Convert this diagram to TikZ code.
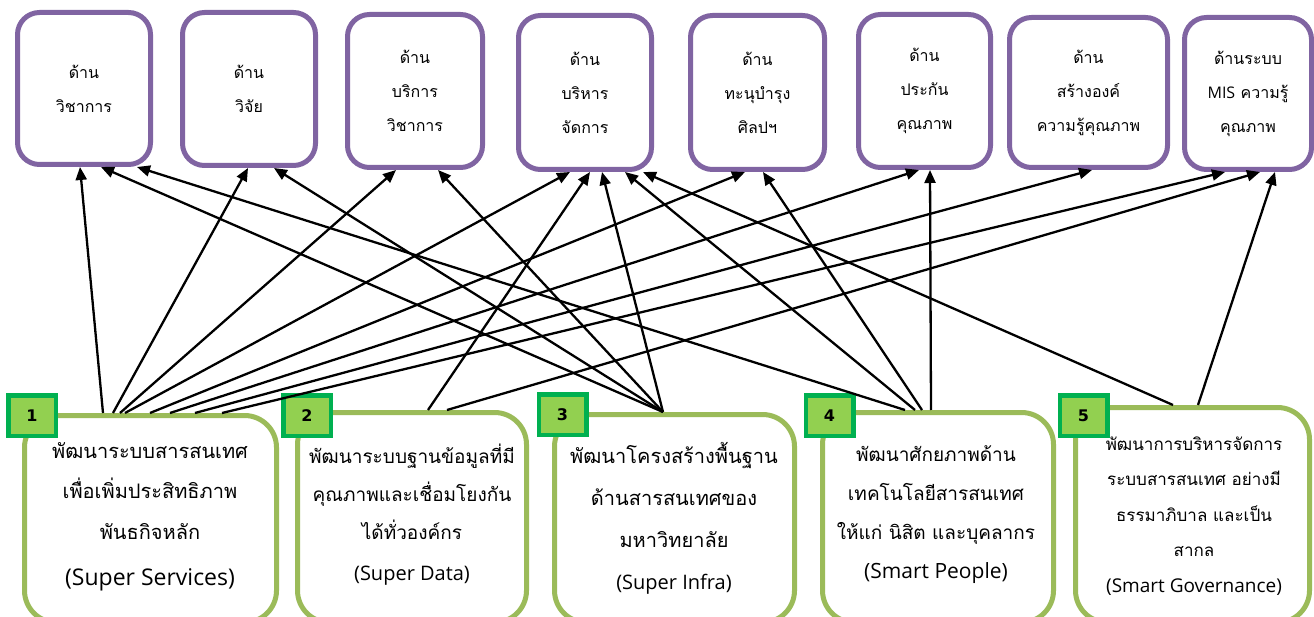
\documentclass[tikz,border=0pt]{standalone}
\usepackage{fontspec}
\usetikzlibrary{arrows.meta}
\newfontfamily\thai[Script=Thai]{Loma}
\newfontfamily\lat{Open Sans}
\newfontfamily\bdg{DejaVu Sans}
\definecolor{tpurple}{HTML}{8064A2}
\definecolor{bgreen}{HTML}{9BBB59}
\definecolor{bdfill}{HTML}{92D050}
\definecolor{bdline}{HTML}{00B050}
\tikzset{
  topbox/.style={draw=tpurple, line width=5pt, rounded corners=22pt, fill=white,
    align=center, inner sep=0pt, font=\thai\fontsize{16}{34}\selectfont},
  botbox/.style={draw=bgreen, line width=5pt, rounded corners=32pt, fill=white, inner sep=0pt},
  badge/.style={draw=bdline, fill=bdfill, line width=4.5pt, minimum width=47.5pt,
    minimum height=40.5pt, inner sep=0pt, font=\bdg\bfseries\fontsize{16}{16}\selectfont},
  bottext/.style={align=center, inner sep=0pt},
  conn/.style={line width=2.3pt, -{Triangle[length=13pt,width=11pt]}}
}
\begin{document}
\begin{tikzpicture}[x=1pt,y=-1pt]
\useasboundingbox (0,0) rectangle (1314,617);
% top boxes
\node[topbox, minimum width=133pt, minimum height=152pt] (t1) at (84,88.5) {ด้าน\\วิชาการ};
\node[topbox, minimum width=133pt, minimum height=153pt] (t2) at (249,89) {ด้าน\\วิจัย};
\node[topbox, minimum width=135pt, minimum height=153pt] (t3) at (415,91) {ด้าน\\บริการ\\วิชาการ};
\node[topbox, minimum width=133pt, minimum height=154pt] (t4) at (585,92.5) {ด้าน\\บริหาร\\จัดการ};
\node[topbox, minimum width=134pt, minimum height=154pt] (t5) at (757.5,92.5) {ด้าน\\ทะนุบำรุง\\ศิลปฯ};
\node[topbox, minimum width=132pt, minimum height=153pt] (t6) at (924.5,91) {ด้าน\\ประกัน\\คุณภาพ};
\node[topbox, minimum width=158pt, minimum height=150pt] (t7) at (1088.5,92.5) {ด้าน\\สร้างองค์\\ความรู้คุณภาพ};
\node[topbox, minimum width=127pt, minimum height=152pt] (t8) at (1248,93.5) {ด้านระบบ\\{\lat MIS} ความรู้\\คุณภาพ};
% bottom boxes
\node[botbox, minimum width=252pt, minimum height=207pt] (b1) at (150.5,519) {};
\node[botbox, minimum width=229pt, minimum height=210pt] (b2) at (412,517.5) {};
\node[botbox, minimum width=240pt, minimum height=208pt] (b3) at (674.5,518.5) {};
\node[botbox, minimum width=231pt, minimum height=210pt] (b4) at (938,517.5) {};
\node[botbox, minimum width=234pt, minimum height=215pt] (b5) at (1192.5,515) {};
% texts
\node[bottext, font=\thai\fontsize{20}{40.5}\selectfont] (b1t) at (150,517)
  {พัฒนาระบบสารสนเทศ\\เพื่อเพิ่มประสิทธิภาพ\\พันธกิจหลัก\\[6pt]{\lat\fontsize{23}{40}\selectfont (Super Services)}};
\node[bottext, font=\thai\fontsize{19}{38}\selectfont] (b2t) at (412,514.5)
  {พัฒนาระบบฐานข้อมูลที่มี\\คุณภาพและเชื่อมโยงกัน\\ได้ทั่วองค์กร\\[3pt]{\lat\fontsize{20}{38}\selectfont (Super Data)}};
\node[bottext, font=\thai\fontsize{20}{42}\selectfont] (b3t) at (674,518.5)
  {พัฒนาโครงสร้างพื้นฐาน\\ด้านสารสนเทศของ\\มหาวิทยาลัย\\{\lat\fontsize{20}{42}\selectfont (Super Infra)}};
\node[bottext, font=\thai\fontsize{19}{39}\selectfont] (b4t) at (936,515)
  {พัฒนาศักยภาพด้าน\\เทคโนโลยีสารสนเทศ\\ให้แก่ นิสิต และบุคลากร\\{\lat\fontsize{21}{39}\selectfont (Smart People)}};
\node[bottext, font=\thai\fontsize{17}{35.5}\selectfont] (b5t) at (1194,516)
  {พัฒนาการบริหารจัดการ\\ระบบสารสนเทศ อย่างมี\\ธรรมาภิบาล และเป็น\\สากล\\{\lat\fontsize{19}{35.5}\selectfont (Smart Governance)}};
% badges
\node[badge] (n1) at (32,415.5) {1};
\node[badge] (n2) at (307,415.5) {2};
\node[badge] (n3) at (562.5,414.5) {3};
\node[badge] (n4) at (829.5,415.5) {4};
\node[badge] (n5) at (1083.5,415.5) {5};
% connectors
\draw[conn] ([xshift=-47.5pt]b1.north) -- ([xshift=-4pt]t1.south);
\draw[conn] ([xshift=-37.5pt]b1.north) -- ([xshift=-1pt]t2.south);
\draw[conn] ([xshift=-30.5pt]b1.north) -- ([xshift=-19pt]t3.south);
\draw[conn] ([xshift=-25.5pt]b1.north) -- ([xshift=-15pt]t4.south);
\draw[conn] ([xshift=-0.5pt]b1.north) -- ([xshift=-12.5pt]t5.south);
\draw[conn] ([xshift=19.5pt]b1.north) -- ([xshift=-5.5pt]t6.south);
\draw[conn] ([xshift=44.5pt]b1.north) -- ([xshift=3.5pt]t7.south);
\draw[conn] ([xshift=71.5pt]b1.north) -- ([xshift=-23pt]t8.south);
\draw[conn] ([xshift=16pt]b2.north) -- ([xshift=5pt]t4.south);
\draw[conn] ([xshift=35pt]b2.north) -- ([xshift=12pt]t8.south);
\draw[conn] ([xshift=-11.5pt]b3.north) -- ([xshift=17pt]t1.south);
\draw[conn] ([xshift=-11.5pt]b3.north) -- ([xshift=25pt]t2.south);
\draw[conn] ([xshift=-11.5pt]b3.north) -- ([xshift=23pt]t3.south);
\draw[conn] ([xshift=-11.5pt]b3.north) -- ([xshift=17pt]t4.south);
\draw[conn] ([xshift=-33pt]b4.north) -- ([xshift=53pt]t1.south);
\draw[conn] ([xshift=-23pt]b4.north) -- ([xshift=40pt]t4.south);
\draw[conn] ([xshift=-16pt]b4.north) -- ([xshift=5.5pt]t5.south);
\draw[conn] ([xshift=-7pt]b4.north) -- ([xshift=5.5pt]t6.south);
\draw[conn] ([xshift=-19.5pt]b5.north) -- ([xshift=58pt]t4.south);
\draw[conn] ([xshift=5.5pt]b5.north) -- ([xshift=27pt]t8.south);
\end{tikzpicture}
\end{document}
